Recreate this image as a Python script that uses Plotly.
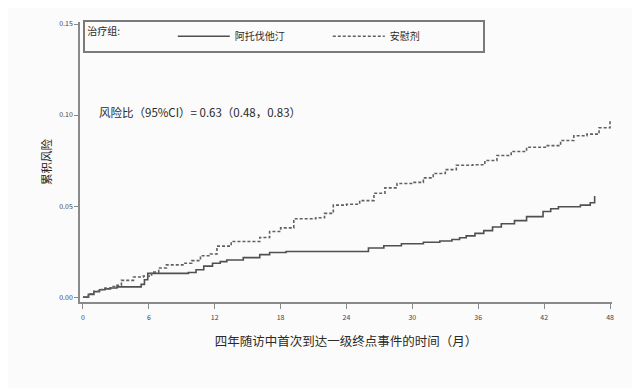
import plotly.graph_objects as go

# 阿托伐他汀 (solid) cumulative risk, step curve
ator_month = [0, 0.5, 1.0, 1.5, 2.0, 2.5, 3.1, 5.3, 5.6, 5.9, 9.6, 10.3, 11.0, 11.8, 12.5, 13.1,
              14.6, 16.1, 17.0, 18.5, 25.6, 26.0, 27.4, 29.0, 31.0, 32.5, 33.6, 34.3, 34.9, 35.7,
              36.5, 37.3, 38.1, 39.3, 40.4, 41.9, 42.6, 43.3, 45.3, 46.2, 46.6]
ator_risk = [0, 0.0015, 0.003, 0.004, 0.0045, 0.005, 0.0056, 0.0070, 0.0095, 0.0130, 0.0135, 0.015,
             0.017, 0.0186, 0.0195, 0.0204, 0.0217, 0.0233, 0.0245, 0.0250, 0.0250, 0.0270, 0.0282,
             0.0293, 0.0301, 0.0308, 0.0316, 0.0326, 0.0336, 0.035, 0.0365, 0.0385, 0.0403, 0.042,
             0.0442, 0.047, 0.0485, 0.0496, 0.0505, 0.0518, 0.0555]

# 安慰剂 (dotted) cumulative risk
plac_month = [0, 0.5, 1.0, 1.5, 2.0, 2.6, 3.1, 3.5, 4.6, 5.5, 6.25, 6.9, 7.6, 9.1, 9.9, 10.7, 11.6,
              12.2, 13.5, 14.9, 16.1, 17.0, 18.0, 19.2, 21.2, 22.0, 22.8, 24.0, 25.2, 26.5, 27.5,
              28.6, 30.0, 31.0, 31.9, 33.0, 34.0, 35.5, 36.6, 37.7, 39.0, 40.4, 42.2, 43.5, 44.7,
              45.9, 47.0, 48.0]
plac_risk = [0, 0.0018, 0.0032, 0.0042, 0.005, 0.0058, 0.0065, 0.0092, 0.011, 0.0115, 0.0137, 0.016,
             0.0177, 0.0186, 0.020, 0.0227, 0.0237, 0.028, 0.0305, 0.0305, 0.0327, 0.036, 0.038,
             0.043, 0.0436, 0.046, 0.0505, 0.051, 0.053, 0.057, 0.060, 0.0624, 0.063, 0.0655,
             0.0679, 0.070, 0.0724, 0.0727, 0.075, 0.0778, 0.080, 0.0823, 0.0832, 0.086, 0.0886,
             0.0895, 0.093, 0.0975]

x_ticks = [0, 6, 12, 18, 24, 30, 36, 42, 48]
y_ticks = [0.00, 0.05, 0.10, 0.15]

FONT = "Noto Sans CJK SC"
LINE = "#505050"
AXIS = "#8a8a8a"
TXT = "#2a2a2a"

fig = go.Figure()
fig.add_trace(go.Scatter(x=ator_month, y=ator_risk, mode="lines", name="阿托伐他汀",
                         line=dict(color=LINE, width=1.6, shape="hv")))
fig.add_trace(go.Scatter(x=plac_month, y=plac_risk, mode="lines", name="安慰剂",
                         line=dict(color="#606060", width=1.6, shape="hv", dash="3px,2px")))

fig.add_annotation(x=1.3, y=0.1015, xref="x", yref="y", xanchor="left", yanchor="middle",
                   text="风险比（95%CI）= 0.63（0.48，0.83）", showarrow=False,
                   font=dict(family=FONT, size=11.5, color=TXT))

# page body has an 8px margin: margins compensate so the plot area lands where the reference has it
fig.update_layout(
    width=640, height=388,
    margin=dict(l=72, r=36, t=10, b=94),
    paper_bgcolor="#fbfbfb", plot_bgcolor="#fbfbfb",
    font=dict(family=FONT, color=TXT),
    showlegend=True,
    legend=dict(
        orientation="h", x=0.006, y=1.008, xanchor="left", yanchor="top",
        bgcolor="#fbfbfb", bordercolor="#7a7a7a", borderwidth=2,
        title=dict(text="治疗组:" + "\u00a0" * 20, side="left",
                   font=dict(family=FONT, size=10, color=TXT)),
        font=dict(family=FONT, size=10, color=TXT),
        entrywidth=88, entrywidthmode="pixels", itemwidth=52,
    ),
    xaxis=dict(
        range=[-0.27, 48.18], tickvals=x_ticks, ticktext=[str(v) for v in x_ticks],
        showgrid=False, zeroline=False, showline=True, linecolor=AXIS, linewidth=1.5,
        ticks="outside", ticklen=5, tickcolor=AXIS, tickwidth=1.2, ticklabelstandoff=3,
        tickfont=dict(family=FONT, size=7, color="#444444"),
        title=dict(text="四年随访中首次到达一级终点事件的时间（月）", standoff=16,
                   font=dict(family=FONT, size=12.5, color=TXT)),
    ),
    yaxis=dict(
        range=[-0.0027, 0.1511], tickvals=y_ticks, tickformat=".2f",
        showgrid=False, zeroline=False, showline=True, linecolor=AXIS, linewidth=1.5,
        ticks="outside", ticklen=4, tickcolor=AXIS, tickwidth=1.2,
        tickfont=dict(family=FONT, size=7, color="#444444"),
        title=dict(text="累积风险", standoff=5,
                   font=dict(family=FONT, size=11.5, color=TXT)),
    ),
)

fig.write_html("out.html")
